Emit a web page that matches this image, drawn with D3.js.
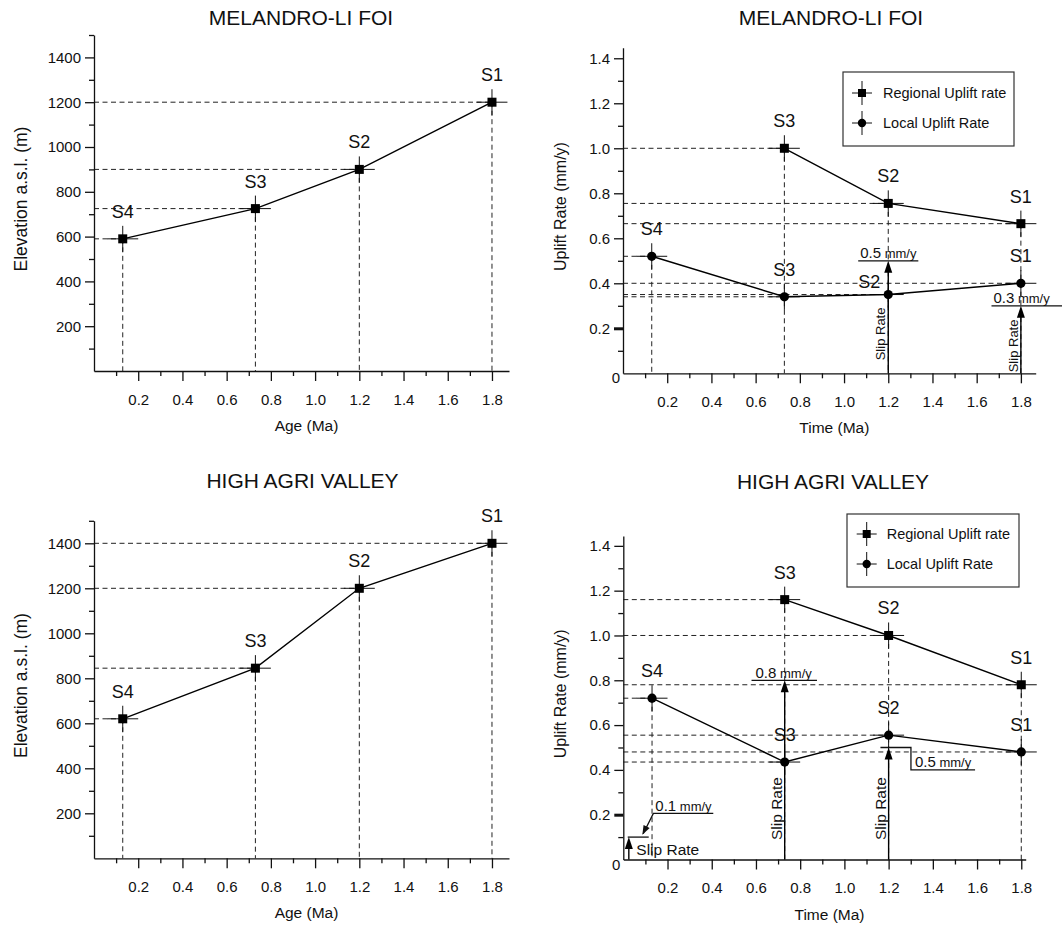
<!DOCTYPE html>
<html>
<head>
<meta charset="utf-8">
<script src="https://cdn.jsdelivr.net/npm/d3@7/dist/d3.min.js"></script>
<style>
  body { margin: 0; background: #fff; }
  svg { font-family: "Liberation Sans", Arial, sans-serif; }
</style>
</head>
<body>
<svg id="chart" width="1062" height="926"></svg>
<script>
// ---- data ----
const sites = ["S4", "S3", "S2", "S1"];
const ageMelandro = [0.13, 0.73, 1.2, 1.8];
const elevMelandro = [590, 725, 900, 1200];
const ageAgri = [0.13, 0.73, 1.2, 1.8];
const elevAgri = [620, 845, 1200, 1400];

const regionalSites = ["S3", "S2", "S1"];
const regionalTime = [0.73, 1.2, 1.8];
const localTime = [0.13, 0.73, 1.2, 1.8];
const regionalMelandro = [1.0, 0.755, 0.665];
const localMelandro = [0.52, 0.34, 0.35, 0.4];
const regionalAgri = [1.16, 1.0, 0.78];
const localAgri = [0.72, 0.435, 0.555, 0.48];

const slipTimeMelandro = [1.2, 1.8];
const slipRateMelandro = [0.5, 0.3];
const slipTimeAgri = [0.025, 0.73, 1.2];
const slipRateAgri = [0.1, 0.8, 0.5];

const timeTicks = [0.2, 0.4, 0.6, 0.8, 1.0, 1.2, 1.4, 1.6, 1.8];
const timeMinor = [0.1, 0.3, 0.5, 0.7, 0.9, 1.1, 1.3, 1.5, 1.7];
const elevTicks = [200, 400, 600, 800, 1000, 1200, 1400];
const elevMinor = [100, 300, 500, 700, 900, 1100, 1300, 1500];
const rateTicks = [0.2, 0.4, 0.6, 0.8, 1.0, 1.2, 1.4];
const rateMinor = [0.1, 0.3, 0.5, 0.7, 0.9, 1.1, 1.3];

const ageErr = 0.07;
const elevErr = 58;
const rateErr = 0.058;

const svg = d3.select("#chart");
svg.append("rect").attr("width", 1062).attr("height", 926).attr("fill", "#fff");

function axes(g, x, y, { yTicks, yMinor, yFmt, title, titleX, titleY, xLabel, yLabel, yLabelX, yLabelSize, zero }) {
  const x0 = y(0);
  const gx = g.append("g").attr("transform", `translate(0,${x0})`)
    .call(d3.axisBottom(x).tickValues(timeTicks).tickSize(10).tickPadding(13)
      .tickSizeOuter(0).tickFormat(d3.format(".1f")));
  g.append("g").attr("transform", `translate(0,${x0})`)
    .call(d3.axisBottom(x).tickValues(timeMinor).tickSize(5).tickFormat(""))
    .call((s) => s.select(".domain").remove());
  const gy = g.append("g").attr("transform", `translate(${x(0)},0)`)
    .call(d3.axisLeft(y).tickValues(yTicks).tickSize(9).tickPadding(4)
      .tickSizeOuter(0).tickFormat(yFmt));
  g.append("g").attr("transform", `translate(${x(0)},0)`)
    .call(d3.axisLeft(y).tickValues(yMinor).tickSize(5).tickFormat(""))
    .call((s) => s.select(".domain").remove());

  g.selectAll(".tick text").attr("font-size", 15).attr("font-family", null).attr("fill", "#111");
  g.selectAll(".tick line, .domain").attr("stroke", "#111").attr("stroke-width", 1.3);
  [gx, gy].forEach((a) => a.attr("font-family", null));

  if (zero) {
    // thick tick at 0.2 and the lone "0" label
    gy.selectAll(".tick").filter((d) => d === 0.2).select("line").attr("stroke-width", 3);
    g.append("text").attr("x", x(0) - 3).attr("y", y(0) + 10)
      .attr("text-anchor", "end").attr("font-size", 15).attr("fill", "#111").text("0");
  }

  g.append("text").attr("x", titleX).attr("y", titleY).attr("text-anchor", "middle")
    .attr("font-size", 21).attr("fill", "#111").text(title);
  g.append("text").attr("x", (x.range()[0] + x.range()[1]) / 2 + 5).attr("y", x0 + 60)
    .attr("text-anchor", "middle").attr("font-size", 15.5).attr("fill", "#111").text(xLabel);
  const cy = (y.range()[0] + y.range()[1]) / 2;
  g.append("text").attr("transform", `translate(${yLabelX},${cy - 4}) rotate(-90)`)
    .attr("dy", "0.35em").attr("text-anchor", "middle")
    .attr("font-size", yLabelSize).attr("fill", "#111").text(yLabel);
}

function guides(g, x, y, xs, ys) {
  const dash = { stroke: "#222", "stroke-width": 1, "stroke-dasharray": "5,3.5" };
  xs.forEach((t, i) => {
    g.append("line").attr("x1", x(0)).attr("x2", x(t)).attr("y1", y(ys[i])).attr("y2", y(ys[i]))
      .attr("stroke", dash.stroke).attr("stroke-width", dash["stroke-width"])
      .attr("stroke-dasharray", dash["stroke-dasharray"]);
  });
  const tops = d3.rollup(xs.map((t, i) => [t, ys[i]]), (v) => d3.max(v, (d) => d[1]), (d) => d[0]);
  tops.forEach((top, t) => {
    g.append("line").attr("x1", x(t)).attr("x2", x(t)).attr("y1", y(top)).attr("y2", y(0))
      .attr("stroke", dash.stroke).attr("stroke-width", dash["stroke-width"])
      .attr("stroke-dasharray", dash["stroke-dasharray"]);
  });
}

function series(g, x, y, xs, ys, labels, shape, yErr, shift = {}) {
  const pts = xs.map((t, i) => ({ t, v: ys[i], label: labels[i] }));
  const bars = g.append("g").attr("stroke", "#111").attr("stroke-width", 1);
  pts.forEach((d) => {
    bars.append("line").attr("x1", x(d.t - ageErr)).attr("x2", x(d.t + ageErr))
      .attr("y1", y(d.v)).attr("y2", y(d.v));
    bars.append("line").attr("x1", x(d.t)).attr("x2", x(d.t))
      .attr("y1", y(d.v - yErr)).attr("y2", y(d.v + yErr));
  });
  g.append("path").datum(pts)
    .attr("d", d3.line().x((d) => x(d.t)).y((d) => y(d.v)))
    .attr("fill", "none").attr("stroke", "#000").attr("stroke-width", 1.4);
  pts.forEach((d) => {
    if (shape === "square") {
      g.append("rect").attr("x", x(d.t) - 4.5).attr("y", y(d.v) - 4.5)
        .attr("width", 9).attr("height", 9).attr("fill", "#000");
    } else {
      g.append("circle").attr("cx", x(d.t)).attr("cy", y(d.v)).attr("r", 4.6).attr("fill", "#000");
    }
    const s = shift[d.label] || [0, 0];
    g.append("text").attr("x", x(d.t) + s[0]).attr("y", y(d.v) - 21 + s[1])
      .attr("text-anchor", "middle").attr("font-size", 18).attr("fill", "#111").text(d.label);
  });
}

function arrow(g, x, y, t, rate) {
  const px = x(t), tip = y(rate);
  g.append("line").attr("x1", px).attr("x2", px).attr("y1", y(0)).attr("y2", tip + 8)
    .attr("stroke", "#000").attr("stroke-width", 1.4);
  g.append("path").attr("d", `M${px},${tip} L${px - 4},${tip + 12} L${px + 4},${tip + 12} Z`).attr("fill", "#000");
}

function rateLabel(g, px, baseline, value) {
  const t = g.append("text").attr("x", px).attr("y", baseline).attr("fill", "#111");
  t.append("tspan").attr("font-size", 15).text(value);
  t.append("tspan").attr("font-size", 13).text(" mm/y");
}

function slipText(g, px, py, size) {
  g.append("text").attr("transform", `translate(${px},${py}) rotate(-90)`)
    .attr("font-size", size).attr("fill", "#111").text("Slip Rate");
}

function legend(g, bx, by, bw, bh, sx, tx, rows) {
  g.append("rect").attr("x", bx).attr("y", by).attr("width", bw).attr("height", bh)
    .attr("fill", "#fff").attr("stroke", "#333").attr("stroke-width", 1.2);
  const items = [["square", "Regional Uplift rate"], ["circle", "Local Uplift Rate"]];
  items.forEach(([shape, name], i) => {
    const yy = rows[i];
    g.append("line").attr("x1", sx - 10).attr("x2", sx + 10).attr("y1", yy).attr("y2", yy).attr("stroke", "#111");
    g.append("line").attr("x1", sx).attr("x2", sx).attr("y1", yy - 12).attr("y2", yy + 12).attr("stroke", "#111");
    if (shape === "square") {
      g.append("rect").attr("x", sx - 4).attr("y", yy - 4).attr("width", 8).attr("height", 8);
    } else {
      g.append("circle").attr("cx", sx).attr("cy", yy).attr("r", 4.2);
    }
    g.append("text").attr("x", tx).attr("y", yy + 5).attr("font-size", 14.5).attr("fill", "#111").text(name);
  });
}

// ---- panel 1: Melandro elevation ----
{
  const g = svg.append("g");
  const x = d3.scaleLinear().domain([0, 1.877]).range([94, 509]);
  const y = d3.scaleLinear().domain([0, 1500]).range([371, 35]);
  guides(g, x, y, ageMelandro, elevMelandro);
  axes(g, x, y, { yTicks: elevTicks, yMinor: elevMinor, yFmt: d3.format("d"),
    title: "MELANDRO-LI FOI", titleX: 301, titleY: 24.5, xLabel: "Age (Ma)",
    yLabel: "Elevation a.s.l. (m)", yLabelX: 21, yLabelSize: 17.5 });
  series(g, x, y, ageMelandro, elevMelandro, sites, "square", elevErr);
}

// ---- panel 3: High Agri elevation ----
{
  const g = svg.append("g");
  const x = d3.scaleLinear().domain([0, 1.877]).range([94, 509]);
  const y = d3.scaleLinear().domain([0, 1500]).range([858.3, 520.8]);
  guides(g, x, y, ageAgri, elevAgri);
  axes(g, x, y, { yTicks: elevTicks, yMinor: elevMinor, yFmt: d3.format("d"),
    title: "HIGH AGRI VALLEY", titleX: 302.5, titleY: 487.5, xLabel: "Age (Ma)",
    yLabel: "Elevation a.s.l. (m)", yLabelX: 21, yLabelSize: 17.5 });
  series(g, x, y, ageAgri, elevAgri, sites, "square", elevErr);
}

// ---- panel 2: Melandro uplift rates ----
{
  const g = svg.append("g");
  const x = d3.scaleLinear().domain([0, 1.867]).range([623, 1035.7]);
  const y = d3.scaleLinear().domain([0, 1.447]).range([373.3, 47.7]);
  guides(g, x, y, regionalTime.concat(localTime), regionalMelandro.concat(localMelandro));
  axes(g, x, y, { yTicks: rateTicks, yMinor: rateMinor, yFmt: d3.format(".1f"),
    title: "MELANDRO-LI FOI", titleX: 831, titleY: 24.5, xLabel: "Time (Ma)",
    yLabel: "Uplift Rate (mm/y)", yLabelX: 560, yLabelSize: 16, zero: true });
  series(g, x, y, regionalTime, regionalMelandro, regionalSites, "square", rateErr);
  series(g, x, y, localTime, localMelandro, sites, "circle", rateErr, { S2: [-19, 14] });

  slipTimeMelandro.forEach((t, i) => arrow(g, x, y, t, slipRateMelandro[i]));
  // 0.5 mm/y at S2
  const u1 = y(slipRateMelandro[0]);
  g.append("line").attr("x1", x(1.064)).attr("x2", x(1.336)).attr("y1", u1).attr("y2", u1).attr("stroke", "#111").attr("stroke-width", 1.3);
  rateLabel(g, x(1.064) + 2, u1 - 2.5, "0.5");
  slipText(g, x(1.2) - 3, y(0) - 13, 13);
  // 0.3 mm/y at S1
  const u2 = y(slipRateMelandro[1]);
  g.append("line").attr("x1", x(1.667)).attr("x2", 1062).attr("y1", u2).attr("y2", u2).attr("stroke", "#111").attr("stroke-width", 1.3);
  rateLabel(g, x(1.667) + 2, u2 - 2.5, "0.3");
  slipText(g, x(1.8) - 3, y(0) - 1, 13);

  legend(g, 843, 72, 171, 74, 862, 883, [93, 123]);
}

// ---- panel 4: High Agri uplift rates ----
{
  const g = svg.append("g");
  const x = d3.scaleLinear().domain([0, 1.82]).range([623.3, 1025.7]);
  const y = d3.scaleLinear().domain([0, 1.444]).range([859.5, 536]);
  guides(g, x, y, regionalTime.concat(localTime), regionalAgri.concat(localAgri));
  axes(g, x, y, { yTicks: rateTicks, yMinor: rateMinor, yFmt: d3.format(".1f"),
    title: "HIGH AGRI VALLEY", titleX: 833, titleY: 488.5, xLabel: "Time (Ma)",
    yLabel: "Uplift Rate (mm/y)", yLabelX: 560, yLabelSize: 16, zero: true });
  series(g, x, y, regionalTime, regionalAgri, regionalSites, "square", rateErr);
  series(g, x, y, localTime, localAgri, sites, "circle", rateErr);

  slipTimeAgri.forEach((t, i) => arrow(g, x, y, t, slipRateAgri[i]));
  const ink = (sel) => sel.attr("stroke", "#111").attr("stroke-width", 1.3).attr("fill", "none");

  // 0.1 mm/y near the origin
  const r0 = y(slipRateAgri[0]);
  ink(g.append("line").attr("x1", x(0.02)).attr("x2", x(0.115)).attr("y1", r0).attr("y2", r0));
  g.append("text").attr("x", x(0) + 13).attr("y", y(0) - 4.5).attr("font-size", 15.5).attr("fill", "#111").text("Slip Rate");
  ink(g.append("path").attr("d", `M${x(0.407)},${y(0.206)} H${x(0.136)} L${x(0.09)},${y(0.115)}`));
  {
    const tx = x(0.086), ty = y(0.11);
    const a = Math.atan2(y(0.206) - ty, x(0.136) - tx);
    const p = (ang, len) => [tx + len * Math.cos(ang), ty + len * Math.sin(ang)];
    const b1 = p(a + 0.35, 10), b2 = p(a - 0.35, 10);
    g.append("path").attr("d", `M${tx},${ty} L${b1[0]},${b1[1]} L${b2[0]},${b2[1]} Z`).attr("fill", "#111");
  }
  rateLabel(g, x(0.136) + 2, y(0.206) - 2.5, "0.1");

  // 0.8 mm/y at S3
  const r1 = y(slipRateAgri[1]);
  ink(g.append("line").attr("x1", x(0.58)).attr("x2", x(0.876)).attr("y1", r1).attr("y2", r1));
  rateLabel(g, x(0.58) + 4, r1 - 2.5, "0.8");
  slipText(g, x(0.73) - 3, y(0) - 19.5, 15.5);

  // 0.5 mm/y at S2 with stepped leader
  const r2 = y(slipRateAgri[2]);
  ink(g.append("path").attr("d", `M${x(1.163)},${r2} H${x(1.301)} V${y(0.4)} H${x(1.591)}`));
  rateLabel(g, x(1.301) + 4, y(0.4) - 2.5, "0.5");
  slipText(g, x(1.2) - 3, y(0) - 19.5, 15.5);

  legend(g, 847, 514, 172, 73, 866.7, 886.7, [534, 564]);
}
</script>
</body>
</html>
